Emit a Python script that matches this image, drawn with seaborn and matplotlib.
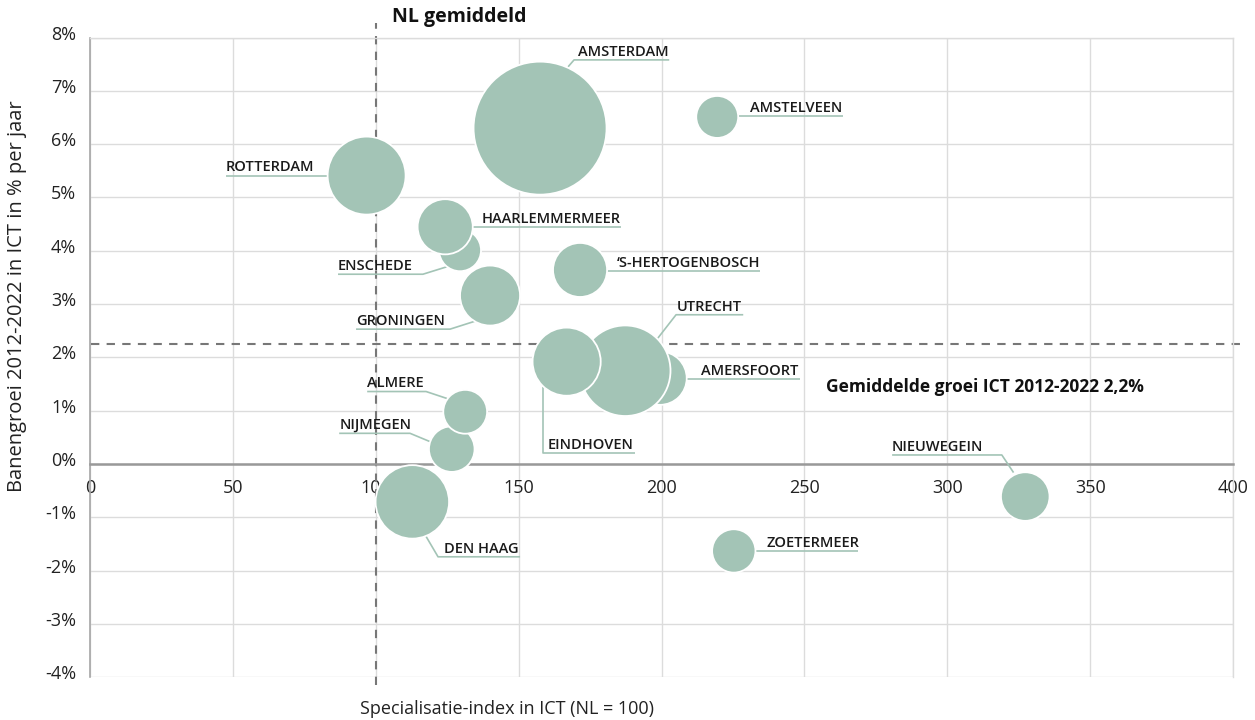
import numpy as np
import pandas as pd
import matplotlib
matplotlib.use('Agg')
import matplotlib.pyplot as plt
import matplotlib.transforms as mtransforms
import seaborn as sns

# volgorde bepaalt welke bel bovenop ligt
gemeenten = ['AMSTERDAM', 'AMSTELVEEN', 'ROTTERDAM', 'ENSCHEDE', 'HAARLEMMERMEER',
             '‘S-HERTOGENBOSCH', 'GRONINGEN', 'AMERSFOORT', 'UTRECHT', 'EINDHOVEN',
             'NIJMEGEN', 'ALMERE', 'DEN HAAG', 'ZOETERMEER', 'NIEUWEGEIN']
spec_index = [157.5, 219.5, 96.8, 129.5, 124.3, 171.5, 140.0, 199.5, 187.3, 166.8,
              126.6, 131.3, 112.8, 225.3, 327.3]
groei = [6.30, 6.51, 5.41, 4.01, 4.45, 3.64, 3.16, 1.61, 1.75, 1.92,
         0.28, 0.98, -0.71, -1.63, -0.61]
ict_banen = [44200, 4400, 15200, 4400, 7600, 7300, 9000, 7100, 20500, 11600,
             5200, 4800, 13500, 4700, 5900]

nl_index = 100
nl_groei = 2.25
x_ticks = [0, 50, 100, 150, 200, 250, 300, 350, 400]
y_ticks = [-4, -3, -2, -1, 0, 1, 2, 3, 4, 5, 6, 7, 8]

df = pd.DataFrame({'gemeente': gemeenten, 'index': spec_index,
                   'groei': groei, 'banen': ict_banen})

# label positie en verbindingslijn (data coords)
label_layout = {
    'AMSTERDAM': ((170.8, 7.58), [(202.7, 7.58), (169.4, 7.58), (167.3, 7.45)]),
    'AMSTELVEEN': ((231.0, 6.52), [(263.6, 6.52), (219.5, 6.52)]),
    'ROTTERDAM': ((47.6, 5.41), [(47.6, 5.41), (96.8, 5.41)]),
    'HAARLEMMERMEER': ((137.2, 4.45), [(185.9, 4.45), (124.3, 4.45)]),
    'ENSCHEDE': ((86.8, 3.56), [(86.8, 3.56), (116.5, 3.56), (124.9, 3.70)]),
    '‘S-HERTOGENBOSCH': ((184.5, 3.62), [(234.5, 3.62), (171.5, 3.62)]),
    'GRONINGEN': ((93.1, 2.53), [(93.1, 2.53), (126.0, 2.53), (134.8, 2.68)]),
    'UTRECHT': ((205.5, 2.80), [(228.6, 2.80), (205.1, 2.80), (198.7, 2.36)]),
    'AMERSFOORT': ((213.9, 1.59), [(248.5, 1.59), (199.5, 1.59)]),
    'EINDHOVEN': ((160.3, 0.21), [(190.8, 0.21), (158.6, 0.21), (158.6, 1.45)]),
    'ALMERE': ((97.0, 1.36), [(97.0, 1.36), (117.6, 1.36), (124.9, 1.23)]),
    'NIJMEGEN': ((87.2, 0.576), [(87.2, 0.576), (112.0, 0.576), (119.0, 0.42)]),
    'DEN HAAG': ((123.9, -1.74), [(150.5, -1.74), (121.8, -1.74), (117.3, -1.33)]),
    'ZOETERMEER': ((236.6, -1.63), [(268.8, -1.63), (225.3, -1.63)]),
    'NIEUWEGEIN': ((280.7, 0.17), [(280.7, 0.17), (319.1, 0.17), (323.2, -0.16)]),
}

groen = '#a3c4b6'
grid_c = '#dcdcdc'

sns.set_theme(style='white')
plt.rcParams['font.family'] = ['Open Sans', 'DejaVu Sans']

fig = plt.figure(figsize=(12.55, 7.2), dpi=100)
ax = fig.add_axes([90 / 1255, 1 - 677.3 / 720, (1233 - 90) / 1255, (677.3 - 37.5) / 720])

# bellen: oppervlak evenredig met aantal ICT-banen
s_max = (133 * 0.72) ** 2
sns.scatterplot(data=df, x='index', y='groei', size='banen', sizes=(0, s_max),
                size_norm=(0, max(ict_banen)), color=groen, edgecolor='white',
                linewidth=1.3, alpha=1, legend=False, zorder=3, ax=ax)

ax.set_xlim(0, 400)
ax.set_ylim(-4, 8)
ax.set_xticks(x_ticks, [str(v) for v in x_ticks])
ax.set_yticks(y_ticks, [f'{v}%' for v in y_ticks])
ax.set_axisbelow(True)
ax.grid(True, color=grid_c, lw=1)
ax.tick_params(axis='both', length=0, labelsize=13, colors='#222222')
ax.tick_params(axis='x', pad=11)
ax.tick_params(axis='y', pad=10)

for side in ['top', 'right']:
    ax.spines[side].set_color(grid_c)
    ax.spines[side].set_linewidth(1)
ax.spines['left'].set_color('#a6a6a6')
ax.spines['left'].set_linewidth(1.2)
ax.spines['bottom'].set_position(('data', 0))
ax.spines['bottom'].set_color('#999999')
ax.spines['bottom'].set_linewidth(1.8)

offset = mtransforms.ScaledTranslation(0, 0.05, fig.dpi_scale_trans)
for lab in ax.get_yticklabels():
    lab.set_transform(lab.get_transform() + offset)

# gemiddelde lijnen
ax.plot([nl_index, nl_index], [-4.15, 8.27], ls=(0, (4, 3.5)), color='#777777',
        lw=1.5, clip_on=False, zorder=2)
ax.plot([0.3, 402.5], [nl_groei, nl_groei], ls=(0, (4, 3.5)), color='#777777',
        lw=1.5, clip_on=False, zorder=2)
ax.text(105.7, 8.39, 'NL gemiddeld', fontsize=14, fontweight='bold',
        va='center', ha='left', color='#111111', clip_on=False)
ax.text(257.6, 1.445, 'Gemiddelde groei ICT 2012-2022 2,2%', fontsize=12.5,
        fontweight='bold', va='center', ha='left', color='#111111')

# labels met verbindingslijnen
for name, (tpos, pts) in label_layout.items():
    xs = [p[0] for p in pts]
    ys = [p[1] for p in pts]
    ax.plot(xs, ys, color=groen, lw=1.2, zorder=2.6, solid_capstyle='butt')
    ax.annotate(name, xy=tpos, xytext=(0, 3), textcoords='offset points',
                ha='left', va='baseline', fontsize=10.5, fontweight='semibold',
                color='#1a1a1a', zorder=5)

ax.set_xlabel('Specialisatie-index in ICT (NL = 100)', fontsize=13, color='#222222')
ax.set_ylabel('Banengroei 2012-2022 in ICT in % per jaar', fontsize=14.5, color='#222222')
ax.xaxis.set_label_coords((507 - 90) / 1143, -0.035)
ax.yaxis.set_label_coords(-0.055, 0.596)

fig.savefig('out.png', dpi=100)
